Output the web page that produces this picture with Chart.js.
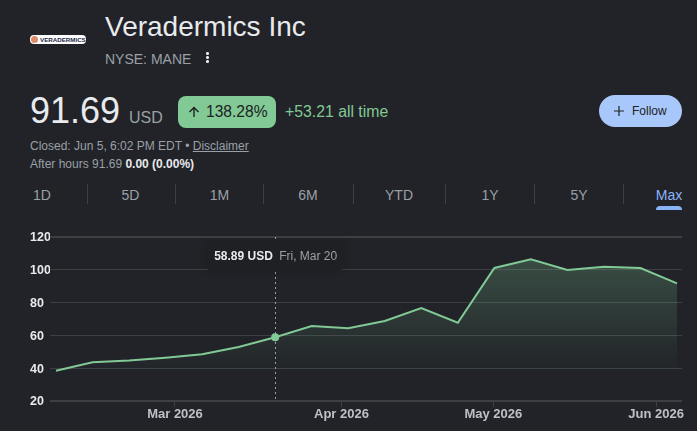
<!doctype html>
<html lang="en">
<head>
<meta charset="utf-8">
<title>Veradermics Inc</title>
<script src="https://cdn.jsdelivr.net/npm/chart.js@4/dist/chart.umd.min.js"></script>
<style>
  html, body { margin: 0; padding: 0; background: #212328; overflow: hidden; }
  body { width: 697px; height: 431px; position: relative; font-family: "Liberation Sans", Arial, sans-serif; }
  .t { position: absolute; white-space: nowrap; line-height: 1; }
  .logo { position: absolute; left: 30px; top: 35px; width: 56px; height: 9px; background: #fff; border-radius: 4px; overflow: hidden; }
  .logo i { position: absolute; left: 1px; top: 1px; width: 7px; height: 7px; border-radius: 50%; background: #e08a6c; }
  .logo span { position: absolute; left: 10px; top: 1px; font: bold 6.2px/7px "Liberation Sans", Arial, sans-serif; color: #1c2a4a; white-space: nowrap; }
  .dots { position: absolute; left: 206px; top: 52px; width: 3px; height: 11px;
          background: radial-gradient(circle at 1.5px 1.5px, #e8eaed 1.3px, transparent 1.6px) 0 0 / 3px 4px; }
  .pill { position: absolute; left: 178px; top: 96px; width: 98px; height: 32px; border-radius: 8px; background: #81c995; color: #202124; font-size: 15.6px; line-height: 32px; white-space: nowrap; }
  .pill svg { position: absolute; left: 10px; top: 10px; }
  .pill span { position: absolute; left: 28px; }
  .follow { position: absolute; left: 599px; top: 95px; width: 83px; height: 32px; border-radius: 16px; background: #a8c7fa; color: #202124; font-size: 12px; line-height: 32px; }
  .follow svg { position: absolute; left: 15px; top: 11px; }
  .follow span { position: absolute; left: 33px; }
  .tab { position: absolute; top: 188px; transform: translateX(-50%); font-size: 14px; line-height: 14px; color: #9aa0a6; white-space: nowrap; }
  .sep { position: absolute; top: 184px; width: 1px; height: 20px; background: #3c4043; }
  .under { position: absolute; left: 656px; top: 206px; width: 26px; height: 4px; background: #8ab4f8; border-radius: 4px 4px 0 0; }
  #wrap { position: absolute; left: 0; top: 225px; width: 697px; height: 206px; }
  #tip { position: absolute; top: 17px; width: 138px; height: 28px; transform: translateX(-50%); background: #1f2024; border-radius: 4px;
         box-shadow: 0 0 8px rgba(0,0,0,.18); font-size: 12px; line-height: 28px; white-space: nowrap; text-indent: 8px; color: #9aa0a6; }
  #tip b { color: #e8eaed; margin-right: 3px; }
</style>
</head>
<body>
<div class="logo"><i></i><span>VERADERMICS</span></div>
<div class="t" style="left:105px;top:13px;font-size:28px;color:#e8eaed">Veradermics Inc</div>
<div class="t" style="left:105px;top:52px;font-size:14px;color:#9aa0a6">NYSE: MANE</div>
<div class="dots"></div>

<div class="t" style="left:30px;top:93px;font-size:36px;color:#e8eaed">91.69</div>
<div class="t" style="left:129px;top:110px;font-size:16px;color:#9aa0a6">USD</div>
<div class="pill">
  <svg width="12" height="12" viewBox="0 0 12 12"><path d="M6 11V1.5M1.5 6L6 1.5 10.5 6" fill="none" stroke="#202124" stroke-width="1.4"/></svg>
  <span>138.28%</span>
</div>
<div class="t" style="left:285px;top:104px;font-size:15.8px;color:#81c995">+53.21 all time</div>
<div class="follow">
  <svg width="10" height="10" viewBox="0 0 10 10"><path d="M5 0v10M0 5h10" stroke="#202124" stroke-width="1.2"/></svg>
  <span>Follow</span>
</div>

<div class="t" style="left:30px;top:140px;font-size:12px;color:#9aa0a6">Closed: Jun 5, 6:02 PM EDT • <u>Disclaimer</u></div>
<div class="t" style="left:30px;top:158px;font-size:12px;color:#9aa0a6">After hours 91.69 <b style="color:#e8eaed">0.00 (0.00%)</b></div>

<div id="tabs"></div>
<div class="under"></div>

<div id="wrap">
  <canvas id="chart" width="697" height="206"></canvas>
  <div id="tip"></div>
</div>

<script>
  const ranges = ['1D', '5D', '1M', '6M', 'YTD', '1Y', '5Y', 'Max'];
  const rangeCentres = [42, 130.5, 219.5, 308, 399, 490, 579, 669];
  const rangeDividers = [86.5, 175, 263, 352.5, 445, 534, 623];

  const dates = ['2026-02-06', '2026-02-13', '2026-02-20', '2026-02-27', '2026-03-06', '2026-03-13',
    '2026-03-20', '2026-03-27', '2026-04-03', '2026-04-10', '2026-04-17', '2026-04-24',
    '2026-05-01', '2026-05-08', '2026-05-15', '2026-05-22', '2026-05-29', '2026-06-05'];
  const prices = [38.48, 43.6, 44.7, 46.4, 48.5, 52.9, 58.89, 65.7, 64.3, 68.8, 76.7, 67.7,
    101.1, 106.4, 99.9, 101.9, 101.1, 91.69];
  const yTicks = [20, 40, 60, 80, 100, 120];
  const monthLabels = ['Mar 2026', 'Apr 2026', 'May 2026', 'Jun 2026'];
  const monthTickDays = [22.8, 54.7, 83.8, 115];

  const selected = 6; // Mar 20, the point the readout sits on
  const green = '#81c995';
  const gridColor = '#3c4043';

  // tab row
  const tabs = document.getElementById('tabs');
  ranges.forEach((name, i) => {
    const el = document.createElement('div');
    el.className = 'tab';
    el.textContent = name;
    el.style.left = rangeCentres[i] + 'px';
    if (name === 'Max') el.style.color = '#8ab4f8';
    tabs.appendChild(el);
  });
  rangeDividers.forEach(x => {
    const el = document.createElement('div');
    el.className = 'sep';
    el.style.left = x + 'px';
    tabs.appendChild(el);
  });

  // x axis runs on days since the first close
  const dayOf = s => (Date.parse(s) - Date.parse(dates[0])) / 86400000;
  const points = dates.map((d, i) => ({ x: dayOf(d), y: prices[i] }));

  const crosshair = {
    id: 'crosshair',
    beforeDatasetsDraw(chart) {
      const { ctx, chartArea, scales } = chart;
      const x = Math.round(scales.x.getPixelForValue(points[selected].x)) + 0.5;
      ctx.save();
      ctx.strokeStyle = '#9aa0a6';
      ctx.lineWidth = 1;
      ctx.setLineDash([2, 3]);
      ctx.beginPath();
      ctx.moveTo(x, chartArea.top);
      ctx.lineTo(x, chartArea.bottom);
      ctx.stroke();
      ctx.restore();
    }
  };

  function areaFill(context) {
    const { ctx, chartArea, scales } = context.chart;
    if (!chartArea) return 'transparent';
    const g = ctx.createLinearGradient(0, scales.y.getPixelForValue(106), 0, scales.y.getPixelForValue(36));
    g.addColorStop(0, 'rgba(129,201,149,0.25)');
    g.addColorStop(1, 'rgba(129,201,149,0)');
    return g;
  }

  const chart = new Chart(document.getElementById('chart'), {
    type: 'line',
    data: {
      datasets: [{
        data: points,
        borderColor: green,
        borderWidth: 2,
        tension: 0,
        fill: 'start',
        backgroundColor: areaFill,
        pointRadius: c => c.dataIndex === selected ? 4 : 0,
        pointBackgroundColor: green,
        pointBorderWidth: 0
      }]
    },
    options: {
      responsive: false,
      animation: false,
      events: [],
      layout: { padding: { left: 30, right: 15, top: 12, bottom: 0 } },
      plugins: { legend: { display: false }, tooltip: { enabled: false } },
      scales: {
        x: {
          type: 'linear',
          min: -1.15,
          max: 119.96,
          afterFit: s => { s.height = 30; },
          afterBuildTicks: s => { s.ticks = monthTickDays.map(v => ({ value: v })); },
          border: { display: false },
          grid: { drawOnChartArea: false, drawTicks: true, tickLength: 6, color: gridColor },
          ticks: {
            autoSkip: false,
            maxRotation: 0,
            padding: 0,
            color: '#bdc1c6',
            font: { family: '"Liberation Sans", Arial, sans-serif', size: 13, weight: 'bold' },
            callback: v => monthLabels[monthTickDays.indexOf(v)]
          }
        },
        y: {
          min: yTicks[0],
          max: yTicks[yTicks.length - 1],
          afterFit: s => { s.width = 20; },
          afterBuildTicks: s => { s.ticks = yTicks.map(v => ({ value: v })); },
          border: { display: false },
          grid: {
            drawTicks: false,
            color: gridColor,
            lineWidth: c => (c.tick.value === 20 || c.tick.value === 120) ? 2 : 1
          },
          ticks: {
            crossAlign: 'far',
            padding: 0,
            labelOffset: 1,
            color: '#e8eaed',
            font: { family: '"Liberation Sans", Arial, sans-serif', size: 12.5, weight: 'bold' }
          }
        }
      }
    },
    plugins: [crosshair]
  });

  // readout above the selected point
  const tip = document.getElementById('tip');
  tip.style.left = chart.scales.x.getPixelForValue(points[selected].x) + 'px';
  const when = new Date(dates[selected] + 'T12:00:00Z')
    .toLocaleDateString('en-US', { weekday: 'short', month: 'short', day: 'numeric', timeZone: 'UTC' });
  tip.innerHTML = '<b>' + prices[selected].toFixed(2) + ' USD</b> ' + when;
</script>
</body>
</html>
